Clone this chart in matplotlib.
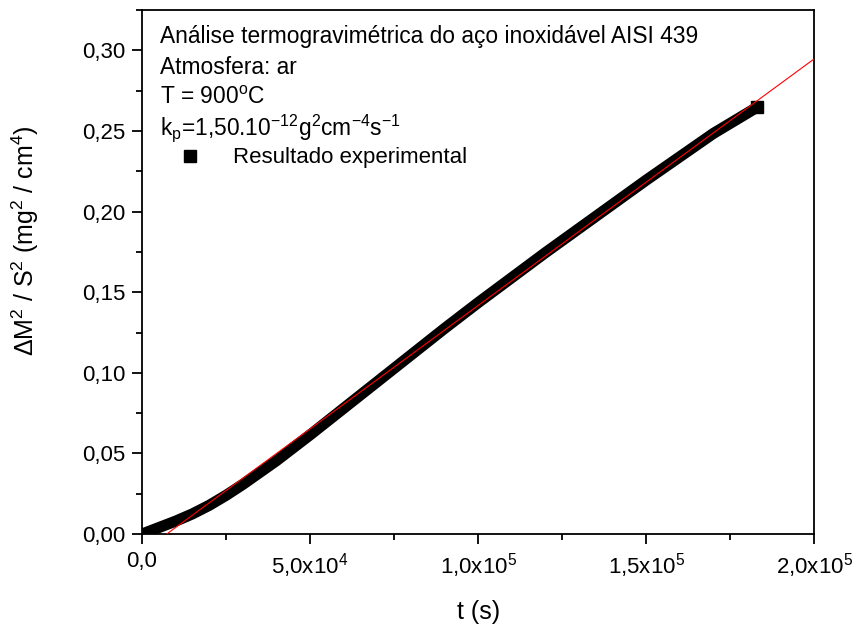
import numpy as np
import matplotlib
matplotlib.use("Agg")
import matplotlib.pyplot as plt
from matplotlib.ticker import MultipleLocator, FixedLocator

plt.rcParams['font.family'] = ['Liberation Sans', 'DejaVu Sans']
plt.rcParams['mathtext.fontset'] = 'custom'
plt.rcParams['mathtext.rm'] = 'Liberation Sans'
plt.rcParams['mathtext.it'] = 'Liberation Sans:italic'
plt.rcParams['mathtext.bf'] = 'Liberation Sans:bold'

# TGA result, AISI 439 at 900 C in air
t_exp = [0, 5e3, 1e4, 1.5e4, 2e4, 2.5e4, 3e4, 4e4, 5e4, 6e4, 7e4, 8e4, 9e4,
         1e5, 1.1e5, 1.2e5, 1.3e5, 1.4e5, 1.5e5, 1.6e5, 1.7e5, 1.8e5, 1.83e5]
dm2_exp = [0.0000, 0.0040, 0.0080, 0.0125, 0.0178, 0.0240, 0.0308, 0.0455,
           0.0615, 0.0780, 0.0945, 0.1110, 0.1275, 0.1435, 0.1590, 0.1745,
           0.1895, 0.2045, 0.2195, 0.2340, 0.2485, 0.2610, 0.2648]

# parabolic fit line
fit_slope = 1.53e-6      # mg^2 cm^-4 s^-1
fit_t0 = 7.35e3          # s
t_fit = np.array([0, 2.0e5])
dm2_fit = fit_slope * (t_fit - fit_t0)

fig = plt.figure(figsize=(8.56, 6.35), dpi=100)
ax = fig.add_axes([0.1659, 0.159, 0.7852, 0.825])

ax.plot(t_exp, dm2_exp, color='black', lw=8, solid_capstyle='butt',
        solid_joinstyle='round', marker='s', markersize=8,
        markevery=[len(t_exp) - 1], zorder=2)
pts, = ax.plot([], [], 's', color='black', markersize=8,
               label='Resultado experimental')
ax.plot(t_fit, dm2_fit, color='red', lw=0.8, zorder=3)

ax.set_xlim(0, 2.0e5)
ax.set_ylim(0, 0.325)

ax.xaxis.set_major_locator(FixedLocator([0, 5e4, 1e5, 1.5e5, 2e5]))
ax.xaxis.set_minor_locator(MultipleLocator(2.5e4))
ax.set_xticklabels(['0,0', r'5,0x10$^\mathregular{4}$', r'1,0x10$^\mathregular{5}$',
                    r'1,5x10$^\mathregular{5}$', r'2,0x10$^\mathregular{5}$'])
yt = [0, 0.05, 0.10, 0.15, 0.20, 0.25, 0.30]
ax.yaxis.set_major_locator(FixedLocator(yt))
ax.yaxis.set_minor_locator(MultipleLocator(0.025))
ax.set_yticklabels([f"{v:.2f}".replace('.', ',') for v in yt])

ax.tick_params(which='major', direction='out', length=7, width=1.3,
               labelsize=16, top=False, right=False, pad=5)
ax.tick_params(which='minor', direction='out', length=4, width=1.3,
               top=False, right=False)
for s in ax.spines.values():
    s.set_linewidth(1.3)

ax.set_xlabel('t (s)', fontsize=18)
ax.xaxis.set_label_coords(0.5, -0.125)
ax.set_ylabel(r'$\mathregular{\Delta M^2\ /\ S^2\ (mg^2\ /\ cm^4)}$',
              fontsize=18)
ax.yaxis.set_label_coords(-0.15, 0.561)

lines = ['Análise termogravimétrica do aço inoxidável AISI 439',
         'Atmosfera: ar',
         r'T = 900$^\mathregular{o}$C',
         r'k$_\mathregular{p}$=1,50.10$^\mathregular{-12}$g$^\mathregular{2}$cm$^\mathregular{-4}$s$^\mathregular{-1}$']
for i, txt in enumerate(lines):
    ax.text(0.027, 0.937 - i * 0.0585, txt, transform=ax.transAxes,
            fontsize=16.4, va='baseline', ha='left')

ax.legend(handles=[pts], loc='center left', bbox_to_anchor=(0.062, 0.718),
          frameon=False, fontsize=16, handlelength=0.6, handletextpad=1.6,
          borderpad=0, borderaxespad=0)

fig.savefig('out.png', dpi=100)
